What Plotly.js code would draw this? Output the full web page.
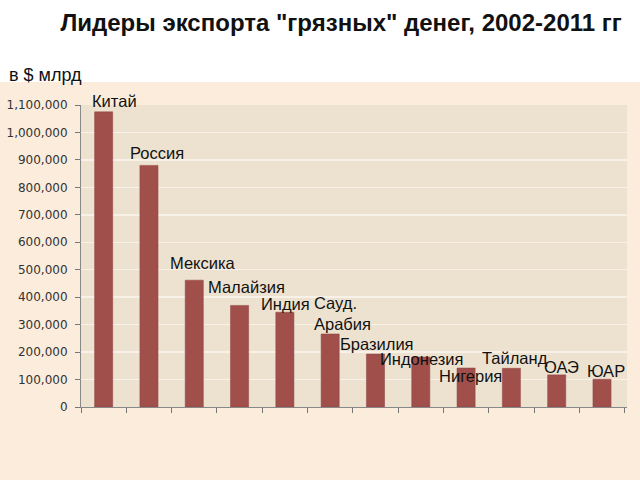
<!DOCTYPE html>
<html>
<head>
<meta charset="utf-8">
<script src="https://cdn.plot.ly/plotly-3.0.1.min.js"></script>
<style>html,body{margin:0;padding:0;background:#fbecdc;}#chart{width:640px;height:480px;}</style>
</head>
<body>
<div id="chart"></div>
<script>
// Data
const countries = ["Китай", "Россия", "Мексика", "Малайзия", "Индия", "Сауд.<br>Арабия", "Бразилия", "Индонезия", "Нигерия", "Тайланд", "ОАЭ", "ЮАР"];
const values = [1075000, 880000, 462000, 370000, 345000, 266000, 193000, 182000, 142000, 141000, 117000, 101000];
const yTicks = [0, 100000, 200000, 300000, 400000, 500000, 600000, 700000, 800000, 900000, 1000000, 1100000];

// label offsets (pixels) relative to each bar top/center
const labelDx = [-14, -21, -26, -34, -26, -18, -37, -43, -29, -31, -15, -17];
const labelDy = [11, 12, 17, 18, 8, 20, 10, -2, -8, 10, 8, 8];

const cats = countries.map((c, i) => "c" + i);

const trace = {
  type: "bar",
  x: cats,
  y: values,
  width: 0.4,
  marker: {color: "#a14f4b", line: {color: "#8e4541", width: 0.5}},
  hoverinfo: "skip"
};

const annotations = countries.map((c, i) => ({
  x: cats[i], y: values[i], xref: "x", yref: "y",
  text: c, showarrow: false, align: "left",
  xanchor: "left", yanchor: "middle",
  xshift: labelDx[i], yshift: labelDy[i],
  font: {family: "Liberation Sans, Arial, sans-serif", size: 16.5, color: "#111"}
}));
annotations.push({
  xref: "paper", yref: "paper", x: -0.135, y: 1.1,
  xanchor: "left", yanchor: "middle", showarrow: false,
  text: "в $ млрд",
  font: {family: "Liberation Sans, Arial, sans-serif", size: 18, color: "#111"}
});

const layout = {
  width: 640, height: 480,
  margin: {l: 81, r: 13, t: 105, b: 73},
  paper_bgcolor: "#fbecdc",
  plot_bgcolor: "#ede2d0",
  title: {
    text: "<b>Лидеры экспорта \"грязных\" денег, 2002-2011 гг</b>",
    x: 0.533, xanchor: "center", y: 0.953, yanchor: "middle",
    font: {family: "Liberation Sans, Arial, sans-serif", size: 24, color: "#111"}
  },
  showlegend: false,
  xaxis: {
    type: "category",
    showticklabels: false,
    tickson: "boundaries",
    ticks: "outside", ticklen: 5, tickcolor: "#777",
    showline: true, linecolor: "#888", linewidth: 1,
    showgrid: false, zeroline: false,
    fixedrange: true
  },
  yaxis: {
    range: [0, 1100000],
    tickvals: yTicks,
    tickformat: ",d",
    ticks: "outside", ticklen: 5, tickcolor: "#777",
    ticklabelstandoff: 5,
    showline: true, linecolor: "#888", linewidth: 1,
    showgrid: true, gridcolor: "#f7f1e8", gridwidth: 1.5,
    zeroline: false,
    tickfont: {family: "DejaVu Sans, Tahoma, sans-serif", size: 12, color: "#333"},
    fixedrange: true
  },
  shapes: [{
    type: "rect", xref: "paper", yref: "paper",
    x0: -0.2, x1: 1.1, y0: 1.076, y1: 1.4,
    fillcolor: "#ffffff", line: {width: 0}, layer: "below"
  }],
  annotations: annotations
};

Plotly.newPlot("chart", [trace], layout, {displayModeBar: false, staticPlot: true});
</script>
</body>
</html>
